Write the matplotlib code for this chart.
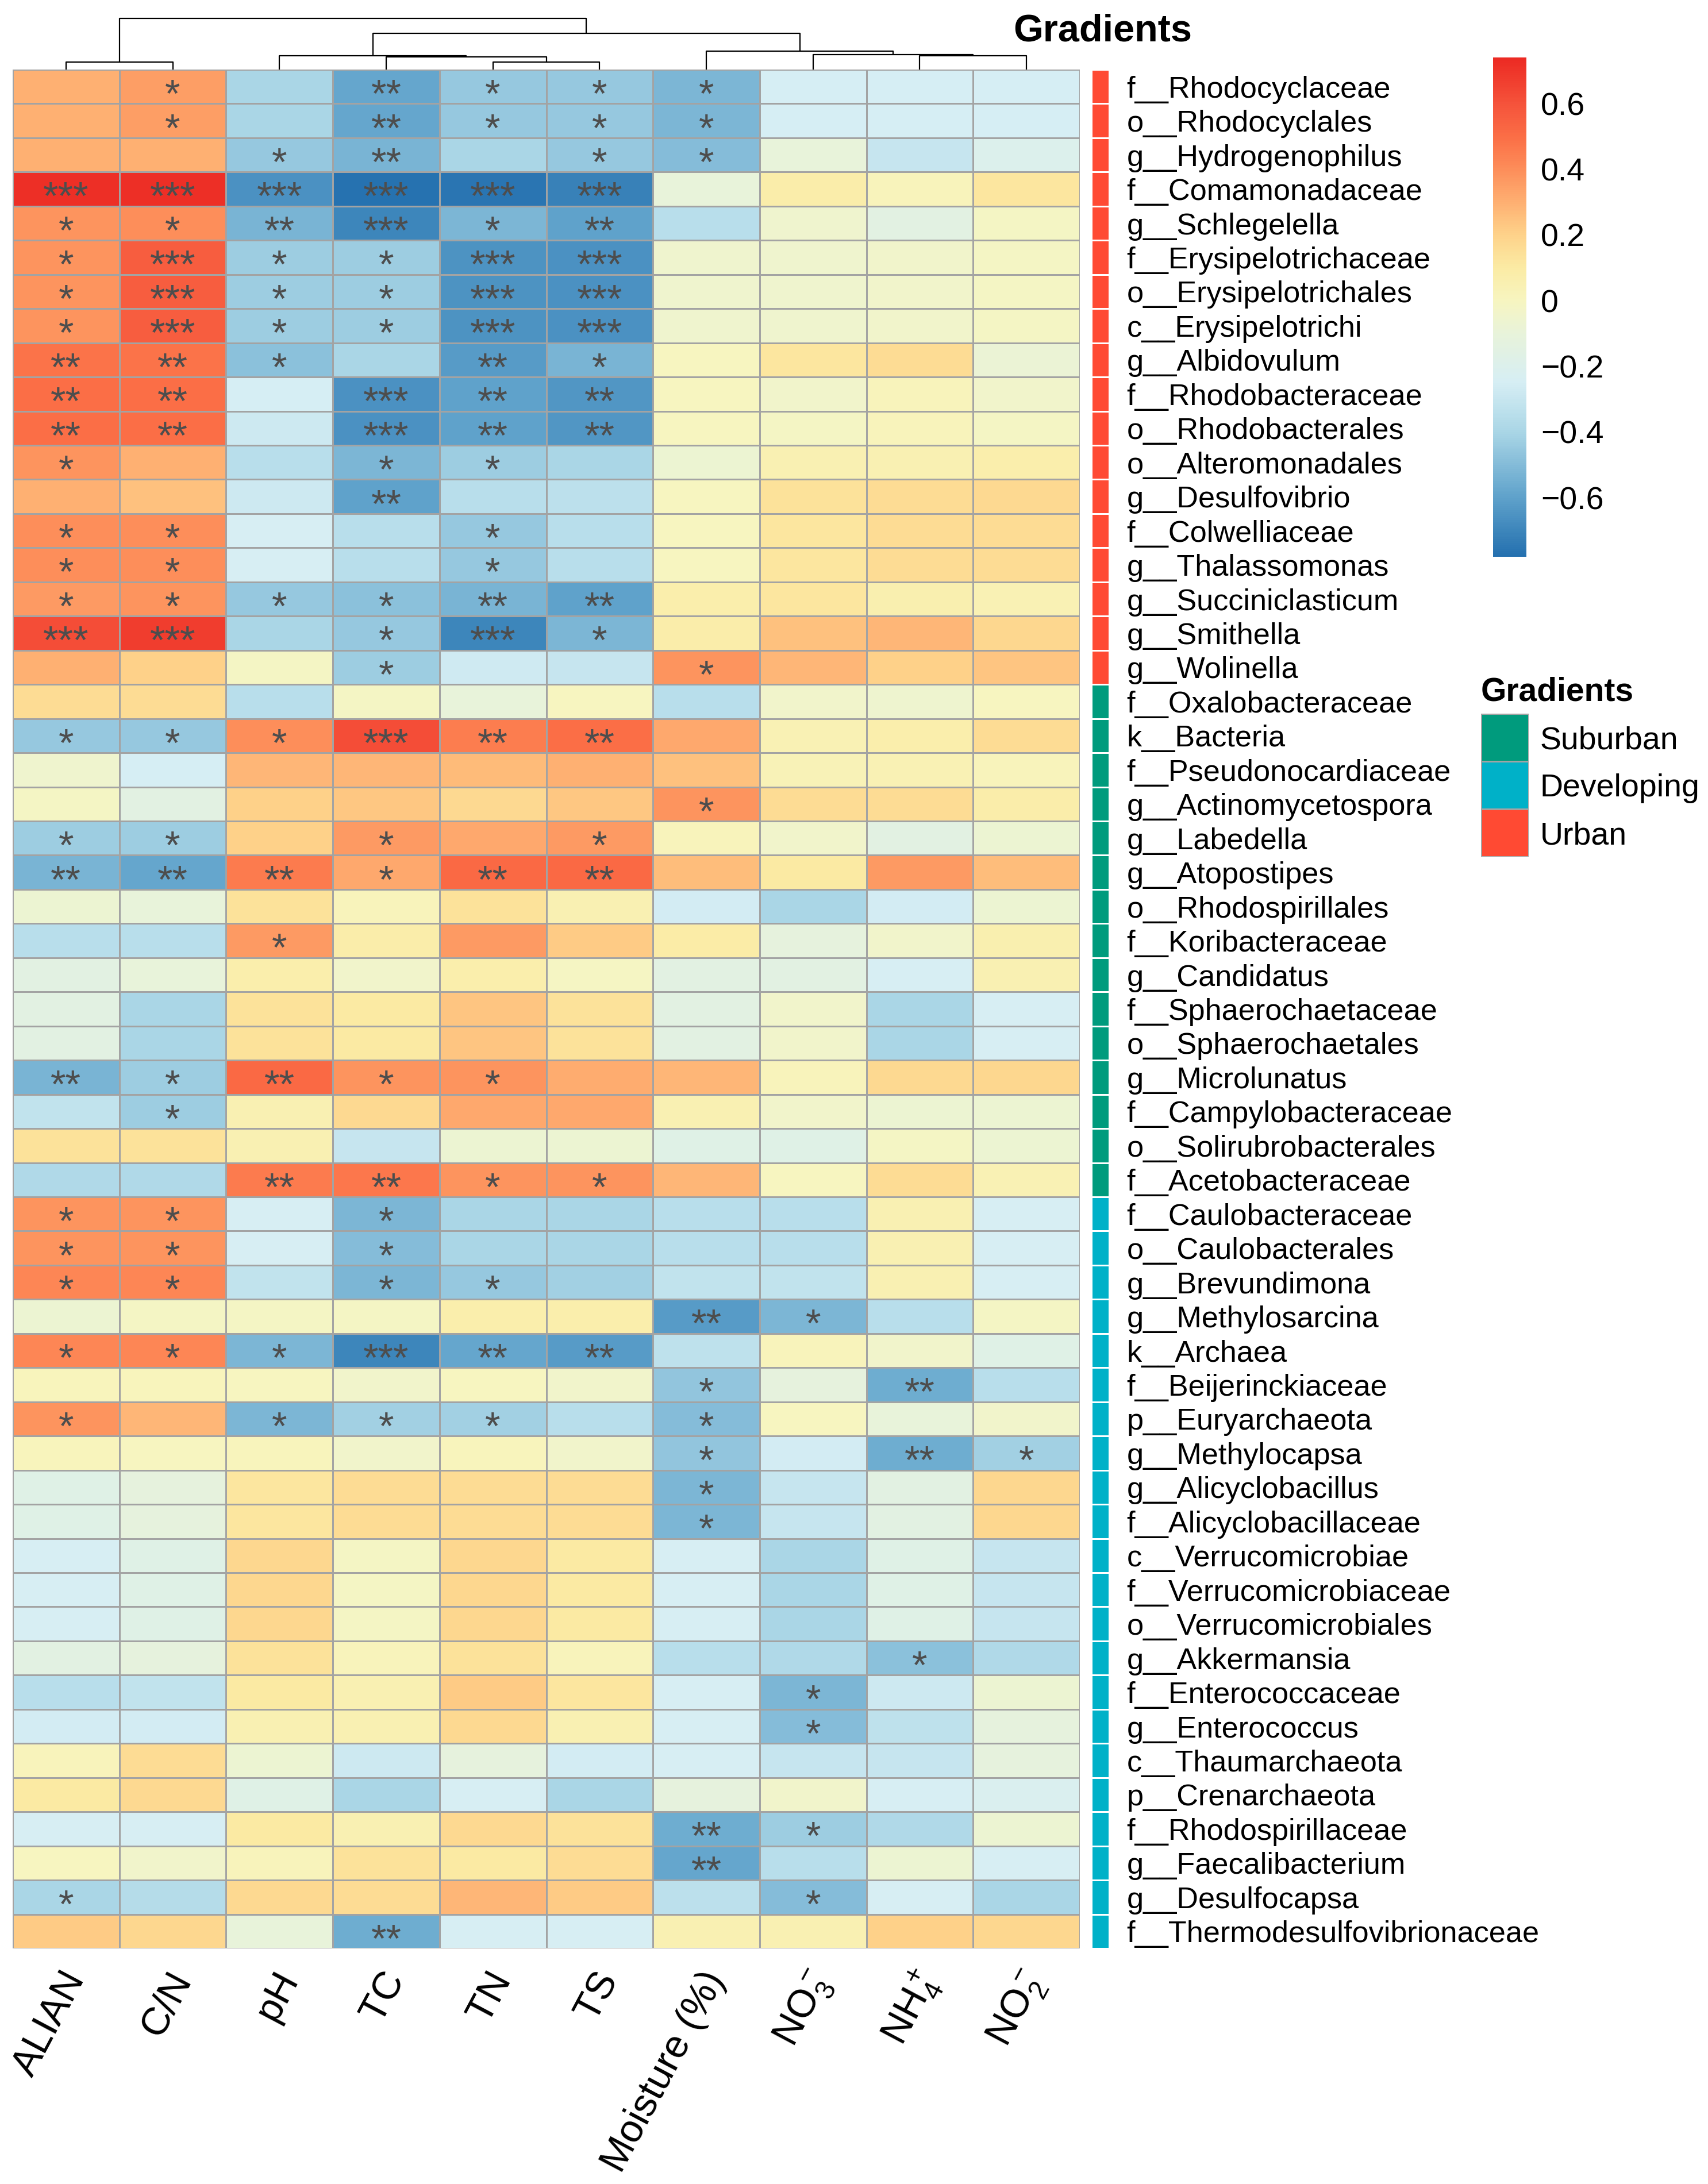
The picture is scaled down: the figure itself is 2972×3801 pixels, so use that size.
import matplotlib
matplotlib.use('Agg')
import matplotlib.pyplot as plt
import numpy as np
from matplotlib.colors import LinearSegmentedColormap, ListedColormap, Normalize
from matplotlib.cm import ScalarMappable
from matplotlib.transforms import ScaledTranslation

plt.rcParams['font.family'] = ['Liberation Sans', 'DejaVu Sans']
plt.rcParams['mathtext.fontset'] = 'custom'
plt.rcParams['mathtext.rm'] = 'Liberation Sans'
plt.rcParams['mathtext.it'] = 'Liberation Sans:italic'
plt.rcParams['mathtext.bf'] = 'Liberation Sans:bold'

# ---------------- data ----------------
columns = ['ALIAN', 'C/N', 'pH', 'TC', 'TN', 'TS', 'Moisture (%)',
           r'NO$_3^-$', r'NH$_4^+$', r'NO$_2^-$']

urban_taxa = ['f__Rhodocyclaceae', 'o__Rhodocyclales', 'g__Hydrogenophilus', 'f__Comamonadaceae',
              'g__Schlegelella', 'f__Erysipelotrichaceae', 'o__Erysipelotrichales', 'c__Erysipelotrichi',
              'g__Albidovulum', 'f__Rhodobacteraceae', 'o__Rhodobacterales', 'o__Alteromonadales',
              'g__Desulfovibrio', 'f__Colwelliaceae', 'g__Thalassomonas', 'g__Succiniclasticum',
              'g__Smithella', 'g__Wolinella']
urban_values = [
    [0.30, 0.35, -0.40, -0.58, -0.45, -0.45, -0.52, -0.25, -0.25, -0.25],
    [0.30, 0.35, -0.40, -0.58, -0.45, -0.45, -0.52, -0.25, -0.25, -0.25],
    [0.30, 0.30, -0.45, -0.53, -0.40, -0.45, -0.50, -0.10, -0.30, -0.20],
    [0.72, 0.72, -0.66, -0.77, -0.76, -0.72, -0.10, 0.08, 0.02, 0.12],
    [0.38, 0.40, -0.53, -0.70, -0.52, -0.60, -0.35, -0.05, -0.15, -0.02],
    [0.38, 0.56, -0.43, -0.43, -0.65, -0.66, -0.05, -0.05, -0.04, -0.02],
    [0.38, 0.56, -0.43, -0.43, -0.65, -0.66, -0.05, -0.05, -0.04, -0.02],
    [0.38, 0.56, -0.43, -0.43, -0.65, -0.66, -0.05, -0.05, -0.04, -0.02],
    [0.48, 0.48, -0.48, -0.40, -0.62, -0.53, 0.00, 0.12, 0.16, -0.08],
    [0.50, 0.50, -0.25, -0.66, -0.60, -0.64, 0.00, -0.04, 0.02, -0.04],
    [0.50, 0.50, -0.28, -0.66, -0.60, -0.64, 0.00, -0.02, 0.02, -0.02],
    [0.38, 0.30, -0.35, -0.52, -0.43, -0.40, -0.07, 0.05, 0.05, 0.07],
    [0.30, 0.25, -0.28, -0.60, -0.35, -0.34, 0.00, 0.14, 0.16, 0.17],
    [0.40, 0.40, -0.24, -0.35, -0.45, -0.35, 0.00, 0.12, 0.16, 0.16],
    [0.40, 0.40, -0.24, -0.35, -0.45, -0.35, 0.00, 0.12, 0.16, 0.16],
    [0.36, 0.38, -0.45, -0.48, -0.53, -0.60, 0.07, 0.12, 0.06, 0.04],
    [0.62, 0.67, -0.40, -0.45, -0.70, -0.52, 0.08, 0.25, 0.28, 0.18],
    [0.30, 0.20, -0.02, -0.43, -0.27, -0.30, 0.38, 0.28, 0.20, 0.24],
]
urban_sig = [
    ['', '*', '', '**', '*', '*', '*', '', '', ''],
    ['', '*', '', '**', '*', '*', '*', '', '', ''],
    ['', '', '*', '**', '', '*', '*', '', '', ''],
    ['***', '***', '***', '***', '***', '***', '', '', '', ''],
    ['*', '*', '**', '***', '*', '**', '', '', '', ''],
    ['*', '***', '*', '*', '***', '***', '', '', '', ''],
    ['*', '***', '*', '*', '***', '***', '', '', '', ''],
    ['*', '***', '*', '*', '***', '***', '', '', '', ''],
    ['**', '**', '*', '', '**', '*', '', '', '', ''],
    ['**', '**', '', '***', '**', '**', '', '', '', ''],
    ['**', '**', '', '***', '**', '**', '', '', '', ''],
    ['*', '', '', '*', '*', '', '', '', '', ''],
    ['', '', '', '**', '', '', '', '', '', ''],
    ['*', '*', '', '', '*', '', '', '', '', ''],
    ['*', '*', '', '', '*', '', '', '', '', ''],
    ['*', '*', '*', '*', '**', '**', '', '', '', ''],
    ['***', '***', '', '*', '***', '*', '', '', '', ''],
    ['', '', '', '*', '', '', '*', '', '', ''],
]

suburban_taxa = ['f__Oxalobacteraceae', 'k__Bacteria', 'f__Pseudonocardiaceae', 'g__Actinomycetospora',
                 'g__Labedella', 'g__Atopostipes', 'o__Rhodospirillales', 'f__Koribacteraceae',
                 'g__Candidatus', 'f__Sphaerochaetaceae', 'o__Sphaerochaetales', 'g__Microlunatus',
                 'f__Campylobacteraceae', 'o__Solirubrobacterales', 'f__Acetobacteraceae']
suburban_values = [
    [0.16, 0.16, -0.35, -0.02, -0.10, 0.00, -0.35, -0.04, -0.06, 0.00],
    [-0.45, -0.45, 0.40, 0.62, 0.45, 0.50, 0.32, 0.04, 0.07, 0.16],
    [-0.05, -0.25, 0.28, 0.28, 0.27, 0.30, 0.25, 0.03, 0.04, 0.02],
    [-0.02, -0.15, 0.20, 0.23, 0.17, 0.23, 0.38, 0.16, 0.16, 0.08],
    [-0.43, -0.43, 0.20, 0.36, 0.32, 0.36, 0.02, -0.04, -0.15, -0.07],
    [-0.53, -0.58, 0.46, 0.32, 0.52, 0.52, 0.26, 0.10, 0.36, 0.26],
    [-0.07, -0.10, 0.14, 0.02, 0.14, 0.05, -0.26, -0.40, -0.26, -0.07],
    [-0.35, -0.35, 0.36, 0.08, 0.36, 0.22, 0.09, -0.12, -0.04, 0.06],
    [-0.15, -0.10, 0.07, -0.04, 0.07, -0.01, -0.15, -0.15, -0.24, 0.05],
    [-0.15, -0.40, 0.14, 0.10, 0.24, 0.14, -0.15, -0.04, -0.40, -0.24],
    [-0.15, -0.40, 0.14, 0.10, 0.24, 0.14, -0.15, -0.04, -0.40, -0.24],
    [-0.53, -0.43, 0.52, 0.38, 0.38, 0.31, 0.28, 0.02, 0.17, 0.18],
    [-0.32, -0.43, 0.05, 0.17, 0.32, 0.32, 0.05, -0.04, -0.07, -0.07],
    [0.14, 0.14, 0.05, -0.30, -0.07, -0.07, -0.17, -0.17, -0.02, -0.07],
    [-0.38, -0.38, 0.46, 0.47, 0.38, 0.38, 0.28, 0.00, 0.16, 0.04],
]
suburban_sig = [
    ['', '', '', '', '', '', '', '', '', ''],
    ['*', '*', '*', '***', '**', '**', '', '', '', ''],
    ['', '', '', '', '', '', '', '', '', ''],
    ['', '', '', '', '', '', '*', '', '', ''],
    ['*', '*', '', '*', '', '*', '', '', '', ''],
    ['**', '**', '**', '*', '**', '**', '', '', '', ''],
    ['', '', '', '', '', '', '', '', '', ''],
    ['', '', '*', '', '', '', '', '', '', ''],
    ['', '', '', '', '', '', '', '', '', ''],
    ['', '', '', '', '', '', '', '', '', ''],
    ['', '', '', '', '', '', '', '', '', ''],
    ['**', '*', '**', '*', '*', '', '', '', '', ''],
    ['', '*', '', '', '', '', '', '', '', ''],
    ['', '', '', '', '', '', '', '', '', ''],
    ['', '', '**', '**', '*', '*', '', '', '', ''],
]

developing_taxa = ['f__Caulobacteraceae', 'o__Caulobacterales', 'g__Brevundimona', 'g__Methylosarcina',
                   'k__Archaea', 'f__Beijerinckiaceae', 'p__Euryarchaeota', 'g__Methylocapsa',
                   'g__Alicyclobacillus', 'f__Alicyclobacillaceae', 'c__Verrucomicrobiae',
                   'f__Verrucomicrobiaceae', 'o__Verrucomicrobiales', 'g__Akkermansia',
                   'f__Enterococcaceae', 'g__Enterococcus', 'c__Thaumarchaeota', 'p__Crenarchaeota',
                   'f__Rhodospirillaceae', 'g__Faecalibacterium', 'g__Desulfocapsa',
                   'f__Thermodesulfovibrionaceae']
developing_values = [
    [0.38, 0.38, -0.24, -0.52, -0.40, -0.40, -0.35, -0.35, 0.05, -0.24],
    [0.38, 0.38, -0.24, -0.50, -0.40, -0.40, -0.35, -0.35, 0.05, -0.24],
    [0.42, 0.42, -0.32, -0.52, -0.45, -0.42, -0.32, -0.32, 0.05, -0.24],
    [-0.07, -0.02, -0.02, -0.02, 0.07, 0.07, -0.62, -0.52, -0.35, -0.02],
    [0.42, 0.42, -0.52, -0.70, -0.58, -0.62, -0.33, 0.02, -0.04, -0.17],
    [0.01, 0.01, 0.00, -0.04, 0.00, -0.04, -0.46, -0.12, -0.56, -0.35],
    [0.38, 0.28, -0.52, -0.42, -0.42, -0.35, -0.50, 0.00, -0.10, -0.04],
    [0.01, 0.00, 0.01, -0.04, 0.01, -0.04, -0.46, -0.26, -0.56, -0.42],
    [-0.17, -0.12, 0.12, 0.16, 0.16, 0.16, -0.52, -0.30, -0.15, 0.18],
    [-0.17, -0.12, 0.12, 0.16, 0.16, 0.16, -0.52, -0.30, -0.15, 0.18],
    [-0.24, -0.17, 0.18, -0.02, 0.18, 0.10, -0.24, -0.40, -0.17, -0.30],
    [-0.24, -0.17, 0.18, -0.02, 0.18, 0.10, -0.24, -0.40, -0.17, -0.30],
    [-0.24, -0.17, 0.18, -0.02, 0.18, 0.10, -0.24, -0.40, -0.17, -0.30],
    [-0.15, -0.12, 0.14, 0.02, 0.14, 0.02, -0.35, -0.38, -0.48, -0.38],
    [-0.35, -0.32, 0.10, 0.05, 0.22, 0.12, -0.24, -0.52, -0.28, -0.07],
    [-0.26, -0.26, 0.05, 0.05, 0.17, 0.05, -0.24, -0.50, -0.33, -0.12],
    [0.02, 0.16, -0.07, -0.28, -0.12, -0.26, -0.24, -0.30, -0.30, -0.12],
    [0.10, 0.17, -0.17, -0.40, -0.24, -0.40, -0.12, -0.04, -0.24, -0.22],
    [-0.24, -0.24, 0.10, 0.05, 0.17, 0.14, -0.56, -0.43, -0.38, -0.07],
    [0.00, -0.04, 0.02, 0.14, 0.10, 0.16, -0.58, -0.35, -0.07, -0.24],
    [-0.40, -0.36, 0.17, 0.16, 0.28, 0.22, -0.34, -0.50, -0.24, -0.40],
    [0.22, 0.18, -0.10, -0.56, -0.24, -0.24, 0.05, 0.05, 0.20, 0.18],
]
developing_sig = [
    ['*', '*', '', '*', '', '', '', '', '', ''],
    ['*', '*', '', '*', '', '', '', '', '', ''],
    ['*', '*', '', '*', '*', '', '', '', '', ''],
    ['', '', '', '', '', '', '**', '*', '', ''],
    ['*', '*', '*', '***', '**', '**', '', '', '', ''],
    ['', '', '', '', '', '', '*', '', '**', ''],
    ['*', '', '*', '*', '*', '', '*', '', '', ''],
    ['', '', '', '', '', '', '*', '', '**', '*'],
    ['', '', '', '', '', '', '*', '', '', ''],
    ['', '', '', '', '', '', '*', '', '', ''],
    ['', '', '', '', '', '', '', '', '', ''],
    ['', '', '', '', '', '', '', '', '', ''],
    ['', '', '', '', '', '', '', '', '', ''],
    ['', '', '', '', '', '', '', '', '*', ''],
    ['', '', '', '', '', '', '', '*', '', ''],
    ['', '', '', '', '', '', '', '*', '', ''],
    ['', '', '', '', '', '', '', '', '', ''],
    ['', '', '', '', '', '', '', '', '', ''],
    ['', '', '', '', '', '', '**', '*', '', ''],
    ['', '', '', '', '', '', '**', '', '', ''],
    ['*', '', '', '', '', '', '', '*', '', ''],
    ['', '', '', '**', '', '', '', '', '', ''],
]

group_names = ['Suburban', 'Developing', 'Urban']
group_colors = ['#009B7D', '#00B1C8', '#FF4A33']

# column dendrogram: (left, right, merge height); leaves are column indices
col_tree = ((0, 1, 13),
            ((2, (3, (4, 5, 13), 22), 24),
             (6, (7, (8, 9, 24), 26), 32), 63),
            89)

# colour scale
vmin, vmax = -0.78, 0.74
cmap_stops = [(-0.78, '#2470AF'), (-0.6, '#5FA2CB'), (-0.4, '#AAD6E6'), (-0.25, '#D6EEF4'),
              (-0.1, '#E8F3DA'), (0.0, '#F7F5C0'), (0.1, '#FBEBA4'), (0.2, '#FED28A'),
              (0.3, '#FEB072'), (0.4, '#FD8E5A'), (0.5, '#FB6E46'), (0.6, '#F5533B'),
              (0.74, '#EC2A23')]
cbar_ticks = [-0.6, -0.4, -0.2, 0.0, 0.2, 0.4, 0.6]
cbar_labels = ['\u22120.6', '\u22120.4', '\u22120.2', '0', '0.2', '0.4', '0.6']

# ---------------- figure ----------------
W, H, DPI = 2972, 3801, 200
fig = plt.figure(figsize=(W / DPI, H / DPI), dpi=DPI)


def box(x0, y0, x1, y1):
    return [x0 / W, 1 - y1 / H, (x1 - x0) / W, (y1 - y0) / H]


cmap = LinearSegmentedColormap.from_list(
    'rc', [((v - vmin) / (vmax - vmin), c) for v, c in cmap_stops])
norm = Normalize(vmin=vmin, vmax=vmax)

taxa = urban_taxa + suburban_taxa + developing_taxa
data = np.array(urban_values + suburban_values + developing_values)
sig = urban_sig + suburban_sig + developing_sig
groups = np.array([2] * len(urban_taxa) + [0] * len(suburban_taxa) + [1] * len(developing_taxa))
nrow, ncol = data.shape

# heatmap
ax = fig.add_axes(box(22, 121, 1879, 3391))
ax.pcolormesh(data, cmap=cmap, norm=norm, edgecolors='#A3A3A3', linewidth=0.9)
ax.set_xlim(0, ncol)
ax.set_ylim(nrow, 0)
for i in range(nrow):
    for j in range(ncol):
        if sig[i][j]:
            ax.text(j + 0.5, i + 0.5 + 0.29, sig[i][j], ha='center', va='center',
                    fontsize=24.5, color='#4D4D4D')
ax.set_yticks([])
ax.set_xticks(np.arange(ncol) + 0.5)
ax.set_xticklabels(columns, rotation=62, ha='right', va='center',
                   rotation_mode='anchor', fontsize=24.5)
ax.tick_params(axis='x', length=0, pad=16)
shift = ScaledTranslation(17 / DPI, 0, fig.dpi_scale_trans)
for lab in ax.get_xticklabels():
    lab.set_transform(lab.get_transform() + shift)
for s in ax.spines.values():
    s.set_visible(False)

# row annotation
axa = fig.add_axes(box(1899, 121, 1930, 3391))
axa.pcolormesh(groups[:, None], cmap=ListedColormap(group_colors), vmin=-0.5, vmax=2.5,
               edgecolors='white', linewidth=0.9)
axa.set_xlim(0, 1)
axa.set_ylim(nrow, 0)
axa.set_xticks([])
axa.set_yticks(np.arange(nrow) + 0.5)
axa.set_yticklabels(taxa, fontsize=18.8)
axa.yaxis.tick_right()
axa.tick_params(axis='y', length=0, pad=11)
for s in axa.spines.values():
    s.set_visible(False)

# column dendrogram
axd = fig.add_axes(box(22, 20, 1879, 121))
axd.set_xlim(0, ncol)
axd.set_ylim(0, 101)
axd.axis('off')


def draw(node):
    if isinstance(node, int):
        return node + 0.5, 0.0
    l, r, h = node
    xl, hl = draw(l)
    xr, hr = draw(r)
    axd.plot([xl, xl, xr, xr], [hl, h, h, hr], color='black', lw=0.8,
             solid_capstyle='butt', clip_on=False)
    return (xl + xr) / 2, h


draw(col_tree)

fig.text(1763 / W, 1 - 55 / H, 'Gradients', ha='left', va='center',
         fontsize=24, fontweight='bold')

# colorbar
cax = fig.add_axes(box(2598, 100, 2656, 969))
cb = fig.colorbar(ScalarMappable(norm=norm, cmap=cmap), cax=cax, ticks=cbar_ticks)
cb.outline.set_visible(False)
cb.ax.set_yticklabels(cbar_labels)
cax.tick_params(length=0, pad=9, labelsize=20)

# group legend
axl = fig.add_axes(box(2577, 1242, 2660, 1491))
axl.pcolormesh(np.arange(3)[:, None], cmap=ListedColormap(group_colors), vmin=-0.5, vmax=2.5,
               edgecolors='#A3A3A3', linewidth=1.0)
axl.set_xlim(0, 1)
axl.set_ylim(3, 0)
axl.set_xticks([])
axl.set_yticks(np.arange(3) + 0.5)
axl.set_yticklabels(group_names, fontsize=20)
axl.yaxis.tick_right()
axl.tick_params(axis='y', length=0, pad=7)
for s in axl.spines.values():
    s.set_visible(False)
axl.set_title('Gradients', loc='left', fontsize=20.5, fontweight='bold', pad=8)

fig.savefig('out.png', dpi=DPI)
